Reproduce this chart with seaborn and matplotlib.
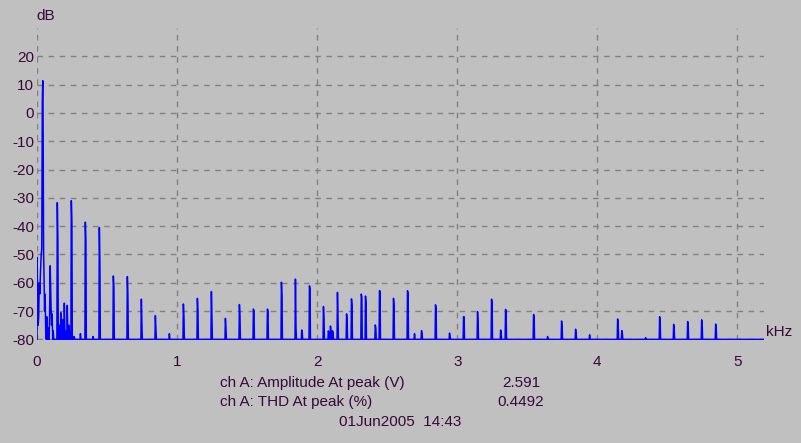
import pandas as pd
import seaborn as sns
import matplotlib.pyplot as plt

# low frequency part of the trace (fundamental and its skirt), kHz / dB
lf_freq = [0.000, 0.000, 0.004, 0.008, 0.012, 0.016, 0.020, 0.025, 0.030, 0.034,
           0.038, 0.041, 0.044, 0.047, 0.050, 0.054, 0.058, 0.062, 0.066, 0.070,
           0.074, 0.078, 0.082, 0.086, 0.090, 0.094, 0.097, 0.100, 0.104, 0.108,
           0.112, 0.116, 0.120]
lf_level = [-80, -51, -62, -75, -72, -60, -64, -56, -50, -48,
            4, 11.4, -8, -49, -57, -70, -64, -77, -80, -72,
            -78, -80, -76, -80, -72, -54, -62, -68, -75, -71,
            -80, -77, -80]

# harmonic spikes: frequency (kHz), peak level (dB), neighbour bin level (dB)
spike_freq = [0.145, 0.160, 0.170, 0.182, 0.195, 0.205, 0.216, 0.228, 0.245, 0.265,
              0.310, 0.345, 0.400, 0.445, 0.545, 0.645, 0.745, 0.845, 0.945, 1.045,
              1.145, 1.245, 1.345, 1.445, 1.545, 1.645, 1.745, 1.845, 1.890, 1.945,
              2.045, 2.080, 2.095, 2.110, 2.145, 2.210, 2.245, 2.315, 2.345, 2.415,
              2.445, 2.545, 2.645, 2.695, 2.745, 2.845, 2.945, 3.045, 3.145, 3.245,
              3.310, 3.345, 3.545, 3.645, 3.745, 3.845, 3.945, 4.145, 4.175, 4.345,
              4.445, 4.545, 4.645, 4.745, 4.845]
spike_peak = [-31.7, -75.0, -70.6, -73.0, -67.2, -77.0, -68.0, -75.0, -31.0, -79.0,
              -78.0, -38.6, -79.0, -40.5, -57.6, -57.8, -65.8, -71.6, -78.0, -67.5,
              -65.5, -63.1, -72.6, -67.7, -69.3, -69.3, -59.8, -58.7, -76.7, -61.1,
              -68.4, -77.0, -75.3, -77.0, -63.4, -71.0, -65.7, -64.0, -64.7, -74.9,
              -62.8, -65.5, -62.8, -78.0, -76.9, -67.8, -77.8, -72.0, -70.2, -65.8,
              -76.7, -69.4, -71.2, -79.0, -73.5, -76.4, -78.4, -72.8, -76.9, -79.4,
              -72.0, -74.7, -73.7, -73.1, -74.6]
spike_side = [-45, -78, -78, -77, -77, -79, -78, -78, -38.5, -80,
              -80, -45.5, -80, -53, -62, -65, -75, -76, -80, -72,
              -70, -72, -76, -72, -70, -70, -65, -76, -78, -62,
              -73, -78, -77, -78, -73, -73, -68, -65, -67, -76,
              -63, -68, -64, -80, -78, -69, -79, -72, -74, -67,
              -78, -70, -72, -80, -76, -78, -80, -74, -78, -80,
              -74, -76, -75, -75, -76]
f_max = 5.19

x_ticks = [0, 1, 2, 3, 4, 5]
y_ticks = [-80, -70, -60, -50, -40, -30, -20, -10, 0, 10, 20]

# build the spectrum trace
fr = list(lf_freq)
lv = list(lf_level)
for f, p, s in zip(spike_freq, spike_peak, spike_side):
    fr += [f - 0.003, f, f + 0.004, f + 0.007]
    lv += [-80, p, s, -80]
fr.append(f_max)
lv.append(-80)
df = pd.DataFrame({'freq': fr, 'level': lv})

bg = '#c0c0c0'
txt = '#380838'
plt.rcParams['font.family'] = ['Liberation Sans', 'DejaVu Sans']

fig = plt.figure(figsize=(8.01, 4.43), dpi=100, facecolor=bg)
ax = fig.add_axes([0.0462, 0.232, 0.9076, 0.7047])
ax.set_facecolor(bg)

sns.lineplot(data=df, x='freq', y='level', sort=False, estimator=None,
             color='#0000ff', lw=1.1, ax=ax)

ax.set_xlim(0, f_max)
ax.set_ylim(-80.3, 30)
ax.set_xticks(x_ticks)
ax.set_yticks(y_ticks)
ax.set_xticklabels([str(t) for t in x_ticks])
ax.set_yticklabels([str(t) for t in y_ticks])
ax.grid(True, color='#808080', ls=(0, (4, 4)), lw=1.0)
ax.set_axisbelow(True)
for sp in ax.spines.values():
    sp.set_visible(False)
ax.tick_params(axis='both', length=0, labelsize=11, labelcolor=txt)
ax.tick_params(axis='y', pad=2)
ax.tick_params(axis='x', pad=10.5)
ax.set_xlabel('')
ax.set_ylabel('')

fig.text(36 / 801, 1 - 16 / 443, 'dB', fontsize=11, color=txt, ha='left', va='center')
fig.text(766 / 801, 1 - 332 / 443, 'kHz', fontsize=11, color=txt, ha='left', va='center')
fig.text(220 / 801, 1 - 383 / 443, 'ch A: Amplitude At peak (V)', fontsize=11, color=txt,
         ha='left', va='center')
fig.text(521 / 801, 1 - 383 / 443, '2.591', fontsize=11, color=txt, ha='center', va='center')
fig.text(220 / 801, 1 - 402 / 443, 'ch A: THD At peak (%)', fontsize=11, color=txt,
         ha='left', va='center')
fig.text(521 / 801, 1 - 402 / 443, '0.4492', fontsize=11, color=txt, ha='center', va='center')
fig.text(400 / 801, 1 - 422 / 443, '01Jun2005  14:43', fontsize=11, color=txt,
         ha='center', va='center')

fig.savefig('out.png', dpi=100, facecolor=bg)
